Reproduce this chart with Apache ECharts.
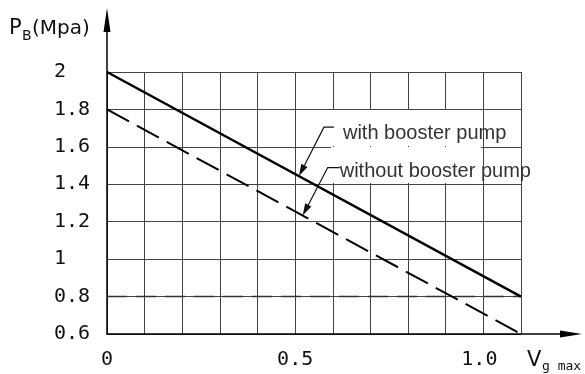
<!DOCTYPE html>
<html>
<head>
<meta charset="utf-8">
<script src="https://cdn.jsdelivr.net/npm/echarts@6/dist/echarts.min.js"></script>
<style>
  html, body { margin: 0; padding: 0; background: #fff; }
  #chart { width: 585px; height: 374px; }
</style>
</head>
<body>
<div id="chart"></div>
<script>
// Gas flow ratio on the x axis, booster pressure P_B on the y axis.
const xValues = [0, 1.1];
const withBoosterPump = [2.0, 0.8];
const withoutBoosterPump = [1.8, 0.6];
const limitPressure = [0.8, 0.8];

const xTickValues = [0, 0.5, 1.0];
const xTickLabels = ['0', '0.5', '1.0'];
const yTickValues = [2, 1.8, 1.6, 1.4, 1.2, 1, 0.8, 0.6];
const yTickLabels = ['2', '1.8', '1.6', '1.4', '1.2', '1', '0.8', '0.6'];

const seriesNames = ['with booster pump', 'without booster pump'];
// x position along each line where its callout arrow points
const calloutAt = [0.51, 0.52];

const numFont = '"DejaVu Sans Mono", monospace';
const textFont = '"Liberation Sans", Arial, sans-serif';
const titleFont = '"DejaVu Sans", sans-serif';

function pickLabel(values, labels, v) {
  for (let i = 0; i < values.length; i++) {
    if (Math.abs(values[i] - v) < 1e-6) return labels[i];
  }
  return '';
}

function pairs(ys) {
  return xValues.map((x, i) => [x, ys[i]]);
}

const chart = echarts.init(document.getElementById('chart'), null, { renderer: 'canvas' });

chart.setOption({
  animation: false,
  backgroundColor: '#fff',
  grid: [
    { left: 107, right: 64, top: 72, bottom: 40 },
    { left: 107, right: 14, top: 20, bottom: 40 }
  ],
  xAxis: [
    {
      gridIndex: 0, type: 'value', min: 0, max: 1.1, interval: 0.1,
      axisLine: { show: false }, axisTick: { show: false },
      splitLine: { show: true, lineStyle: { color: '#444', width: 1 } },
      axisLabel: {
        show: true, margin: 16, fontFamily: numFont, fontSize: 20, color: '#111',
        formatter: v => {
          const t = pickLabel(xTickValues, xTickLabels, v);
          return v > 0.9 && t ? '{end|' + t + '}' : t;
        },
        rich: { end: { fontFamily: numFont, fontSize: 20, color: '#111', padding: [0, 8, 0, 0] } }
      }
    },
    {
      gridIndex: 1, type: 'value', min: 0, max: 1,
      axisLine: { show: true, symbol: ['none', 'triangle'], symbolSize: [7, 22],
                  lineStyle: { color: '#000', width: 1.5 } },
      axisTick: { show: false }, axisLabel: { show: false }, splitLine: { show: false }
    }
  ],
  yAxis: [
    {
      gridIndex: 0, type: 'value', min: 0.6, max: 2, interval: 0.2,
      axisLine: { show: false }, axisTick: { show: false },
      splitLine: { show: true, lineStyle: { color: '#444', width: 1 } },
      axisLabel: {
        show: true, align: 'left', margin: 53, fontFamily: numFont, fontSize: 20, color: '#111',
        formatter: v => pickLabel(yTickValues, yTickLabels, v)
      }
    },
    {
      gridIndex: 1, type: 'value', min: 0, max: 1,
      axisLine: { show: true, symbol: ['none', 'triangle'], symbolSize: [7, 24],
                  lineStyle: { color: '#000', width: 1.5 } },
      axisTick: { show: false }, axisLabel: { show: false }, splitLine: { show: false }
    }
  ],
  series: [
    {
      name: 'limit', type: 'line', xAxisIndex: 0, yAxisIndex: 0,
      data: pairs(limitPressure), showSymbol: false, silent: true, z: 3,
      lineStyle: { color: '#333', width: 1.6, type: [20, 9] }
    },
    {
      name: seriesNames[0], type: 'line', xAxisIndex: 0, yAxisIndex: 0,
      data: pairs(withBoosterPump), showSymbol: false, silent: true, z: 4,
      lineStyle: { color: '#000', width: 2.5 }
    },
    {
      name: seriesNames[1], type: 'line', xAxisIndex: 0, yAxisIndex: 0,
      data: pairs(withoutBoosterPump), showSymbol: false, silent: true, z: 4,
      lineStyle: { color: '#000', width: 2, type: [25, 9] }
    }
  ]
});

// Callouts: leader line with a filled arrowhead pointing at each line
function lineValueAt(ys, x) {
  return ys[0] + (ys[1] - ys[0]) * (x - xValues[0]) / (xValues[1] - xValues[0]);
}

function callout(tip, elbowOffset, tailLen, text, textDx, textDy) {
  const elbow = [tip[0] + elbowOffset[0], tip[1] + elbowOffset[1]];
  const tail = [elbow[0] + tailLen, elbow[1]];
  const dx = tip[0] - elbow[0], dy = tip[1] - elbow[1];
  const len = Math.sqrt(dx * dx + dy * dy);
  const ux = dx / len, uy = dy / len;
  const headLen = 12, headHalf = 3.5;
  const base = [tip[0] - ux * headLen, tip[1] - uy * headLen];
  return [
    {
      type: 'polyline', z: 10, silent: true,
      shape: { points: [tail, elbow, base] },
      style: { stroke: '#111', lineWidth: 1.2, fill: null }
    },
    {
      type: 'polygon', z: 10, silent: true,
      shape: { points: [tip, [base[0] - uy * headHalf, base[1] + ux * headHalf],
                        [base[0] + uy * headHalf, base[1] - ux * headHalf]] },
      style: { fill: '#111' }
    },
    {
      type: 'text', z: 10, silent: true,
      x: tail[0] + textDx, y: tail[1] + textDy,
      style: { text: text, font: '20px ' + textFont, fill: '#333',
               verticalAlign: 'middle', align: 'left' }
    }
  ];
}

const tip1 = chart.convertToPixel({ gridIndex: 0 }, [calloutAt[0], lineValueAt(withBoosterPump, calloutAt[0])]);
const tip2 = chart.convertToPixel({ gridIndex: 0 }, [calloutAt[1], lineValueAt(withoutBoosterPump, calloutAt[1])]);

function label(x, y, text, size, family) {
  return { type: 'text', z: 10, silent: true, x: x, y: y,
           style: { text: text, font: size + 'px ' + family, fill: '#111',
                    verticalAlign: 'middle', align: 'left' } };
}

const graphics = [
  // clear grid behind the callout texts
  { type: 'rect', z: 1, silent: true, shape: { x: 331, y: 110, width: 150, height: 36 }, style: { fill: '#fff' } },
  { type: 'rect', z: 1, silent: true, shape: { x: 331, y: 147, width: 150, height: 36 }, style: { fill: '#fff' } },
  // axis titles
  label(9, 29, 'P', 21, titleFont),
  label(22, 36, 'B', 14, titleFont),
  label(32, 29, '(Mpa)', 20, titleFont),
  label(527, 361, 'V', 21, titleFont),
  label(542, 367, 'g max', 13, numFont)
].concat(
  callout(tip1, [25, -49], 10, seriesNames[0], 9, 6),
  callout(tip2, [25, -48], 12, seriesNames[1], 0, 4)
);

chart.setOption({ graphic: graphics });
</script>
</body>
</html>
